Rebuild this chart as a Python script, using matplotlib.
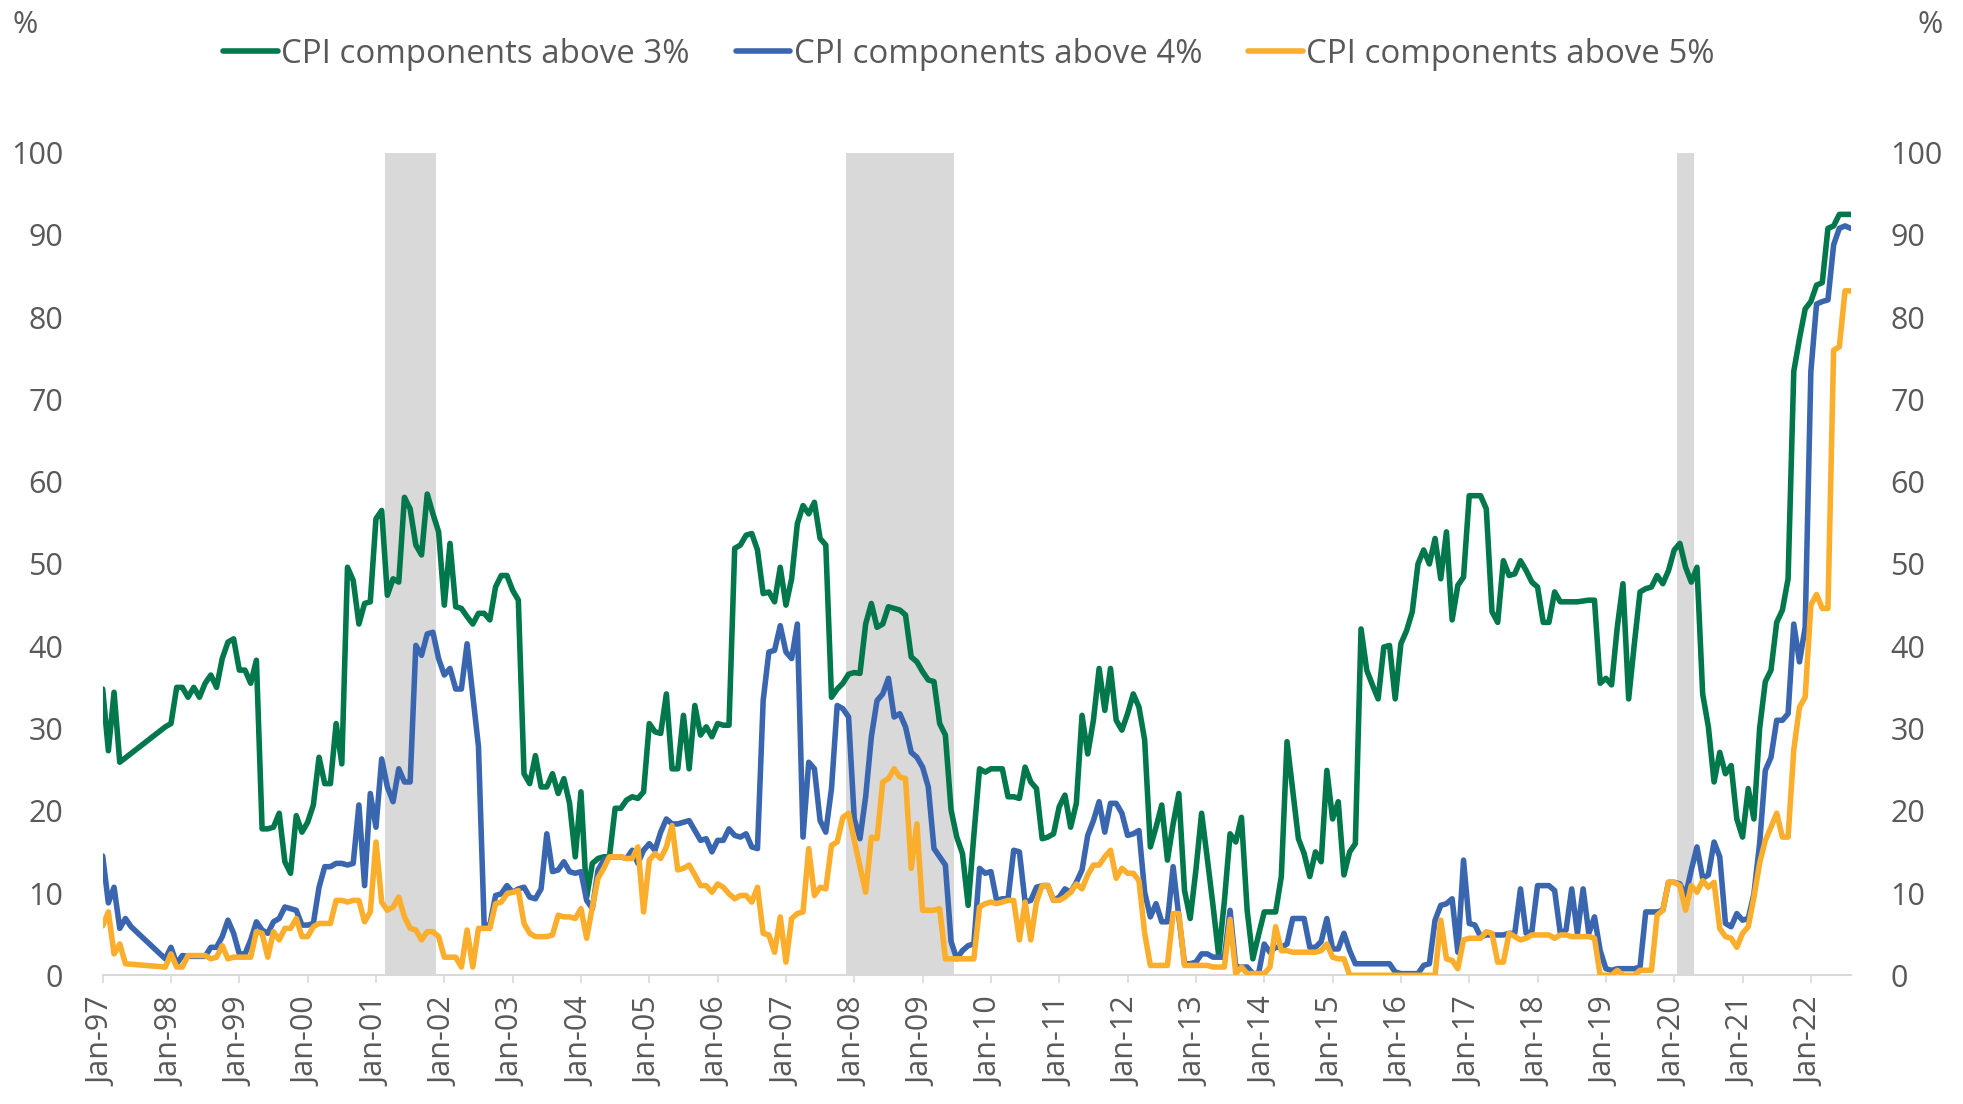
import numpy as np
import pandas as pd
import matplotlib
matplotlib.use("Agg")
from matplotlib import pyplot as plt

plt.rcParams['font.family'] = ['Open Sans', 'DejaVu Sans']

# Monthly data, Jan-97 .. Aug-22 (None = no reading)
months = pd.date_range('1997-01-01', '2022-08-01', freq='MS')

above_3 = [
    34.8, 27.3, 34.4, 25.9, None, None, None, None, None, None, None, 30.2,  # 1997
    30.6, 35.0, 35.0, 33.8, 35.0, 33.8, 35.5, 36.5, 35.0, 38.5, 40.5, 40.9,  # 1998
    37.1, 37.1, 35.5, 38.3, 17.8, 17.8, 18.0, 19.7, 13.8, 12.4, 19.4, 17.4,  # 1999
    18.6, 20.7, 26.5, 23.3, 23.3, 30.6, 25.7, 49.6, 48.0, 42.7, 45.2, 45.4,  # 2000
    55.5, 56.5, 46.2, 48.2, 47.8, 58.1, 56.7, 52.3, 51.1, 58.5, 56.1, 53.9,  # 2001
    45.0, 52.5, 44.8, 44.6, 43.6, 42.7, 44.0, 44.0, 43.2, 47.2, 48.6, 48.6,  # 2002
    46.8, 45.6, 24.5, 23.3, 26.7, 22.9, 22.9, 24.5, 22.1, 23.9, 20.9, 14.4,  # 2003
    22.3, 9.5, 13.6, 14.2, 14.4, 14.4, 20.3, 20.3, 21.3, 21.7, 21.5, 22.3,   # 2004
    30.6, 29.6, 29.4, 34.2, 25.1, 25.1, 31.6, 25.1, 32.8, 29.2, 30.2, 29.0,  # 2005
    30.6, 30.4, 30.4, 51.9, 52.3, 53.5, 53.7, 51.7, 46.4, 46.6, 45.4, 49.6,  # 2006
    45.0, 48.2, 54.9, 57.1, 56.1, 57.5, 53.1, 52.3, 33.8, 34.8, 35.5, 36.6,  # 2007
    36.8, 36.7, 42.7, 45.2, 42.3, 42.7, 44.8, 44.6, 44.4, 43.8, 38.7, 38.1,  # 2008
    36.9, 35.9, 35.7, 30.6, 29.2, 20.1, 16.8, 14.8, 8.5, 17.0, 25.1, 24.7,   # 2009
    25.1, 25.1, 25.1, 21.7, 21.7, 21.5, 25.3, 23.5, 22.7, 16.6, 16.8, 17.2,  # 2010
    20.5, 21.9, 18.0, 20.9, 31.6, 26.9, 31.0, 37.3, 32.2, 37.3, 31.0, 29.8,  # 2011
    31.8, 34.2, 32.6, 28.6, 15.6, 18.0, 20.7, 14.0, 18.4, 22.1, 10.3, 6.9,   # 2012
    12.8, 19.7, 14.2, 8.5, 2.4, 9.0, 17.2, 16.2, 19.2, 7.9, 2.0, 4.9,        # 2013
    7.7, 7.7, 7.7, 12.0, 28.4, 22.5, 16.6, 14.8, 12.0, 15.0, 13.8, 24.9,     # 2014
    19.0, 21.1, 12.2, 15.0, 16.0, 42.1, 37.1, 35.3, 33.6, 39.9, 40.1, 33.6,  # 2015
    40.3, 41.9, 44.2, 50.0, 51.7, 50.0, 53.1, 48.2, 53.9, 43.2, 47.4, 48.4,  # 2016
    58.3, 58.3, 58.3, 56.7, 44.2, 42.9, 50.4, 48.6, 48.8, 50.4, 49.2, 47.8,  # 2017
    47.2, 42.9, 42.9, 46.6, 45.4, 45.4, 45.4, 45.4, 45.5, 45.6, 45.6, 35.5,  # 2018
    36.1, 35.3, 42.3, 47.6, 33.6, 40.3, 46.6, 47.0, 47.2, 48.6, 47.6, 49.2,  # 2019
    51.7, 52.5, 49.6, 47.8, 49.6, 34.2, 30.2, 23.5, 27.1, 24.5, 25.5, 19.0,  # 2020
    16.8, 22.7, 19.0, 30.0, 35.7, 37.1, 42.9, 44.4, 48.2, 73.4, 77.4, 81.0,  # 2021
    81.9, 83.9, 84.2, 90.8, 91.1, 92.5, 92.5, 92.5,                          # 2022
]

above_4 = [
    14.5, 8.8, 10.7, 5.7, 6.9, 5.9, None, None, None, None, None, 2.0,       # 1997
    3.4, 1.4, 2.4, 2.3, 2.3, 2.3, 2.3, 3.4, 3.4, 4.7, 6.7, 5.1,              # 1998
    2.6, 2.6, 4.3, 6.5, 5.5, 5.1, 6.5, 6.9, 8.3, 8.1, 7.9, 6.1,              # 1999
    6.1, 6.3, 10.7, 13.2, 13.2, 13.6, 13.6, 13.4, 13.6, 20.7, 10.9, 22.1,    # 2000
    18.0, 26.3, 22.9, 21.1, 25.1, 23.5, 23.5, 40.1, 38.9, 41.5, 41.7, 38.5,  # 2001
    36.5, 37.3, 34.8, 34.8, 40.3, 34.0, 27.8, 6.1, 6.1, 9.7, 9.9, 10.9,      # 2002
    10.1, 10.5, 10.7, 9.5, 9.3, 10.5, 17.2, 12.6, 12.8, 13.8, 12.6, 12.4,    # 2003
    12.6, 9.1, 8.1, 12.8, 14.0, 14.4, 14.4, 14.4, 14.2, 15.2, 13.6, 15.2,    # 2004
    16.0, 15.2, 17.4, 19.0, 18.4, 18.4, 18.6, 18.8, 17.6, 16.4, 16.6, 15.0,  # 2005
    16.4, 16.4, 17.8, 17.0, 16.8, 17.2, 15.6, 15.4, 33.4, 39.3, 39.5, 42.5,  # 2006
    39.3, 38.5, 42.7, 16.8, 25.9, 25.1, 18.8, 17.4, 22.7, 32.8, 32.4, 31.4,  # 2007
    19.0, 16.6, 21.7, 29.0, 33.4, 34.2, 36.1, 31.4, 31.8, 30.2, 27.1, 26.5,  # 2008
    25.3, 22.9, 15.4, 14.4, 13.4, 4.1, 2.0, 3.0, 3.6, 3.8, 13.0, 12.4,       # 2009
    12.6, 9.1, 9.3, 9.3, 15.2, 15.0, 8.9, 9.1, 10.7, 10.9, 10.9, 9.1,        # 2010
    9.5, 10.5, 10.1, 11.3, 12.8, 17.0, 18.8, 21.1, 17.4, 20.9, 20.9, 19.7,   # 2011
    17.0, 17.2, 17.6, 10.1, 7.1, 8.7, 6.5, 6.5, 13.2, 7.1, 1.4, 1.4,         # 2012
    1.6, 2.6, 2.6, 2.2, 2.2, 2.2, 7.9, 1.0, 1.0, 1.0, 0.2, 0.2,              # 2013
    3.8, 2.8, 3.4, 3.4, 3.8, 6.9, 6.9, 6.9, 3.4, 3.4, 4.1, 6.9,              # 2014
    3.2, 3.2, 5.1, 3.0, 1.4, 1.4, 1.4, 1.4, 1.4, 1.4, 1.4, 0.4,              # 2015
    0.2, 0.2, 0.2, 0.2, 1.2, 1.4, 6.7, 8.5, 8.7, 9.3, 2.8, 14.0,             # 2016
    6.3, 6.1, 4.7, 4.9, 4.9, 4.9, 4.9, 5.1, 5.1, 10.5, 5.1, 5.3,             # 2017
    10.9, 10.9, 10.9, 10.3, 5.1, 5.5, 10.5, 5.1, 10.5, 5.1, 7.1, 3.0,        # 2018
    0.8, 0.6, 0.8, 0.8, 0.8, 0.8, 1.0, 7.7, 7.7, 7.7, 7.9, 11.3,             # 2019
    11.3, 11.1, 9.7, 12.8, 15.6, 11.8, 12.2, 16.2, 14.4, 6.3, 5.9, 7.5,      # 2020
    6.7, 6.9, 9.9, 16.0, 24.9, 26.5, 31.0, 31.0, 31.8, 42.7, 38.1, 42.3,     # 2021
    73.4, 81.6, 81.9, 82.1, 88.8, 90.8, 91.1, 90.8,                          # 2022
]

above_5 = [
    6.0, 7.7, 2.6, 3.8, 1.4, None, None, None, None, None, None, 1.0,        # 1997
    2.6, 1.0, 1.0, 2.4, 2.4, 2.4, 2.4, 2.0, 2.2, 3.6, 2.0, 2.2,              # 1998
    2.2, 2.2, 2.2, 5.3, 5.1, 2.2, 5.3, 4.3, 5.7, 5.7, 6.9, 4.7,              # 1999
    4.7, 5.9, 6.3, 6.3, 6.3, 9.1, 9.1, 8.9, 9.1, 9.1, 6.5, 7.7,              # 2000
    16.2, 8.9, 7.9, 8.3, 9.5, 7.1, 5.7, 5.5, 4.3, 5.3, 5.3, 4.7,             # 2001
    2.2, 2.2, 2.2, 1.0, 5.5, 1.0, 5.7, 5.7, 5.7, 8.7, 8.9, 9.9,              # 2002
    10.1, 10.3, 6.3, 5.1, 4.7, 4.7, 4.7, 4.9, 7.3, 7.1, 7.1, 6.9,            # 2003
    8.1, 4.5, 8.3, 11.8, 13.0, 14.4, 14.4, 14.4, 14.2, 14.2, 15.6, 7.7,      # 2004
    14.0, 14.8, 14.2, 15.6, 18.2, 12.8, 13.0, 13.4, 12.2, 10.9, 10.9, 10.1,  # 2005
    11.1, 10.7, 9.9, 9.3, 9.7, 9.7, 8.9, 10.7, 5.1, 4.9, 2.8, 7.1,           # 2006
    1.6, 6.9, 7.5, 7.7, 15.4, 9.7, 10.7, 10.5, 15.8, 16.2, 19.2, 19.7,       # 2007
    16.4, 13.2, 10.1, 16.8, 16.6, 23.5, 23.9, 25.1, 24.1, 23.9, 13.0, 18.4,  # 2008
    7.9, 7.9, 7.9, 8.1, 2.0, 2.0, 2.0, 2.0, 2.0, 2.0, 8.3, 8.7,              # 2009
    8.9, 8.7, 8.9, 9.1, 9.1, 4.3, 8.9, 4.3, 8.9, 10.9, 10.9, 9.1,            # 2010
    9.1, 9.5, 10.1, 11.1, 10.5, 12.2, 13.4, 13.4, 14.4, 15.2, 11.8, 13.0,    # 2011
    12.4, 12.4, 11.5, 5.1, 1.2, 1.2, 1.2, 1.2, 7.5, 7.5, 1.2, 1.2,           # 2012
    1.2, 1.2, 1.2, 1.0, 1.0, 1.0, 6.8, 0.2, 1.0, 0.2, 0.2, 0.2,              # 2013
    0.2, 1.0, 5.9, 3.0, 3.0, 2.8, 2.8, 2.8, 2.8, 2.8, 3.0, 3.8,              # 2014
    2.2, 2.0, 2.0, 0.0, 0.0, 0.0, 0.0, 0.0, 0.0, 0.0, 0.0, 0.0,              # 2015
    0.0, 0.0, 0.0, 0.0, 0.0, 0.0, 0.0, 6.7, 2.0, 1.8, 0.8, 4.3,              # 2016
    4.5, 4.5, 4.5, 5.3, 5.1, 1.6, 1.6, 5.1, 4.7, 4.3, 4.5, 4.9,              # 2017
    4.9, 4.9, 4.9, 4.5, 4.9, 4.9, 4.7, 4.7, 4.7, 4.7, 4.5, 0.0,              # 2018
    0.0, 0.0, 0.6, 0.0, 0.0, 0.0, 0.6, 0.6, 0.6, 7.3, 7.9, 11.3,             # 2019
    11.3, 10.9, 7.9, 10.9, 10.1, 11.5, 10.7, 11.3, 5.7, 4.7, 4.5, 3.4,       # 2020
    5.1, 5.9, 9.5, 13.6, 16.4, 18.0, 19.7, 16.8, 16.8, 27.4, 32.6, 33.8,     # 2021
    45.0, 46.3, 44.6, 44.6, 76.0, 76.4, 83.2, 83.2,                          # 2022
]

# US recessions (first and last month)
recessions = [('2001-03', '2001-11'), ('2007-12', '2009-06'), ('2020-02', '2020-04')]

series = [
    ('CPI components above 3%', above_3, '#00784b'),
    ('CPI components above 4%', above_4, '#3a66b0'),
    ('CPI components above 5%', above_5, '#fbae2c'),
]

TEXT_COLOR = '#595959'
AXIS_COLOR = '#d9d9d9'
FONT_SIZE = 22

fig = plt.figure(figsize=(19.63, 11.04), dpi=100)
ax = fig.add_axes([0.0523, 0.1166, 0.8905, 0.7451])

x = np.arange(len(months))

# recession shading
for start, end in recessions:
    i0 = months.get_loc(pd.Timestamp(start))
    i1 = months.get_loc(pd.Timestamp(end))
    ax.axvspan(i0 - 0.5, i1 + 0.5, color=AXIS_COLOR, lw=0, zorder=0)

# lines (Excel joins across missing months, so drop the gaps)
for name, vals, col in series:
    y = np.array([np.nan if v is None else v for v in vals], dtype=float)
    ok = ~np.isnan(y)
    ax.plot(x[ok], y[ok], color=col, lw=4.0, label=name, zorder=3,
            solid_joinstyle='round', solid_capstyle='round')

ax.set_xlim(0, len(months) - 1)
ax.set_ylim(0, 100)

# y axis on both sides
ax.set_yticks(range(0, 101, 10))
ax.tick_params(axis='y', left=False, right=False, labelleft=True, labelright=True,
               labelsize=FONT_SIZE, labelcolor=TEXT_COLOR, pad=25)

# x axis: one tick per January
jan = [i for i, d in enumerate(months) if d.month == 1]
ax.set_xticks(jan)
ax.set_xticklabels([months[i].strftime('%b-%y') for i in jan], rotation=90)
ax.tick_params(axis='x', length=6, width=1.2, color=AXIS_COLOR,
               labelsize=FONT_SIZE, labelcolor=TEXT_COLOR, pad=10)

for s in ['top', 'left', 'right']:
    ax.spines[s].set_visible(False)
ax.spines['bottom'].set_color(AXIS_COLOR)
ax.spines['bottom'].set_linewidth(1.5)

# unit labels
fig.text(0.0127, 0.977, '%', fontsize=FONT_SIZE, color=TEXT_COLOR, ha='center', va='center')
fig.text(0.9835, 0.977, '%', fontsize=FONT_SIZE, color=TEXT_COLOR, ha='center', va='center')

fig.legend(loc='center', bbox_to_anchor=(0.4936, 0.951), ncol=3, frameon=False,
           fontsize=23.8, labelcolor=TEXT_COLOR, handlelength=1.65,
           handletextpad=0.1, columnspacing=1.4)

fig.savefig('out.png', dpi=100)
